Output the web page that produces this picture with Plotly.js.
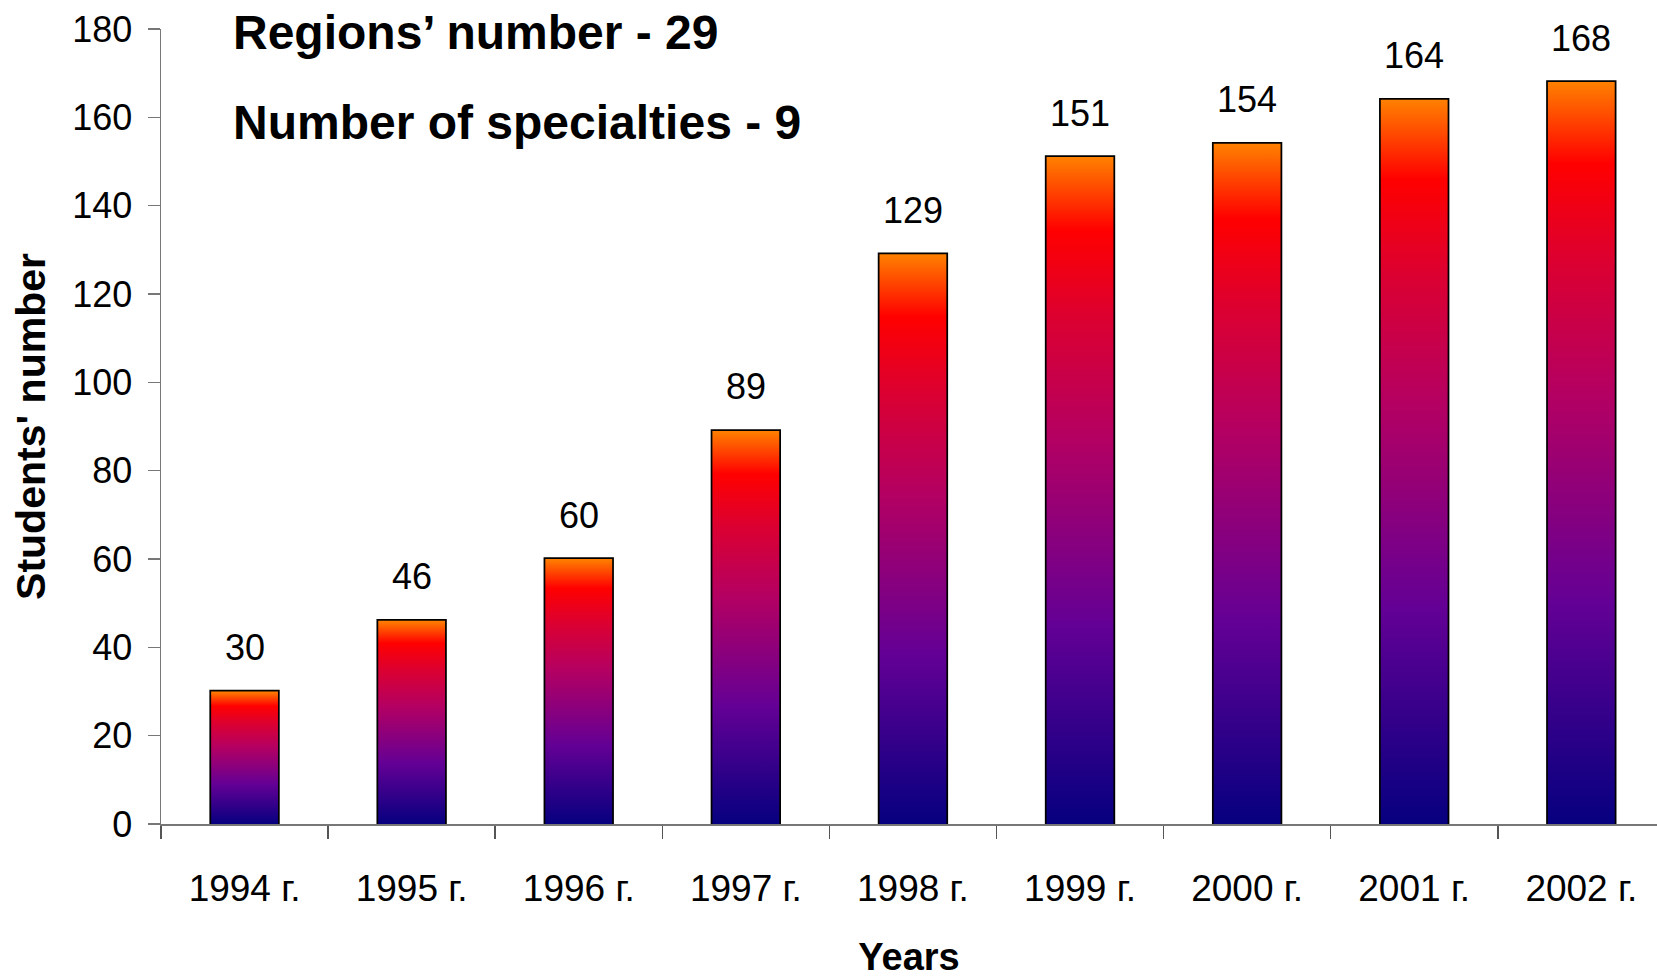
<!DOCTYPE html>
<html>
<head>
<meta charset="utf-8">
<script src="https://cdn.plot.ly/plotly-3.0.1.min.js"></script>
<style>
html,body{margin:0;padding:0;background:#fff;}
#chart{width:1657px;height:978px;}
</style>
</head>
<body>
<div id="chart"></div>
<script>
// ---- data ----
const categories = ['1994 г.', '1995 г.', '1996 г.', '1997 г.', '1998 г.', '1999 г.', '2000 г.', '2001 г.', '2002 г.'];
const students = [30, 46, 60, 89, 129, 151, 154, 164, 168];
const yTickValues = [0, 20, 40, 60, 80, 100, 120, 140, 160, 180];
const headerLines = ['Regions’ number - 29', 'Number of specialties - 9'];
const xTitle = 'Years';
const yTitle = "Students' number";

// ---- style ----
const FONT = 'Liberation Sans, Arial, sans-serif';
const BAR_WIDTH = 0.40;
const fireScale = [
  [0.00, '#06007f'],
  [0.30, '#640095'],
  [0.58, '#b40062'],
  [0.76, '#dc0030'],
  [0.89, '#ff0000'],
  [1.00, '#ff8000']
];

const positions = categories.map((c, i) => i);

// gradient-filled bar bodies (one filled shape per bar, in data coordinates)
const fillTraces = positions.map((p, i) => {
  const v = students[i];
  const l = p - BAR_WIDTH / 2, r = p + BAR_WIDTH / 2;
  return {
    type: 'scatter', mode: 'lines',
    x: [l, l, r, r, l], y: [0, v, v, 0, 0],
    fill: 'toself',
    fillgradient: {type: 'vertical', colorscale: fireScale, start: 0, stop: v},
    line: {width: 0, color: 'rgba(0,0,0,0)'},
    hoverinfo: 'skip', showlegend: false
  };
});

// bar outlines
const barTrace = {
  type: 'bar', x: positions, y: students, width: BAR_WIDTH,
  marker: {color: 'rgba(0,0,0,0)', line: {color: '#000', width: 3.5}},
  hovertext: categories, showlegend: false
};

const valueLabels = positions.map((p, i) => ({
  x: p, y: students[i], xref: 'x', yref: 'y',
  text: String(students[i]), showarrow: false,
  yanchor: 'middle', yshift: 44,
  font: {family: FONT, size: 36, color: '#000'}
}));

const headerAnn = headerLines.map((t, i) => ({
  x: 0.047, y: [0.996, 0.882][i], xref: 'paper', yref: 'paper',
  xanchor: 'left', yanchor: 'middle', text: '<b>' + t + '</b>', showarrow: false,
  font: {family: FONT, size: 48, color: '#000'}
}));

const boundaries = categories.map((c, i) => i - 0.5).concat([categories.length - 0.5]);

const layout = {
  width: 1657, height: 978,
  margin: {l: 161, r: 0, t: 29, b: 154},
  paper_bgcolor: '#fff', plot_bgcolor: '#fff',
  font: {family: FONT, color: '#000'},
  showlegend: false,
  xaxis: {
    type: 'linear',
    range: [-0.5, 8.453],
    tickmode: 'array', tickvals: positions, ticktext: categories,
    ticks: '', ticklabelstandoff: 31,
    minor: {tickmode: 'array', tickvals: boundaries, ticks: 'outside', ticklen: 13, tickwidth: 1.5, tickcolor: '#555', showgrid: false},
    showline: true, linecolor: '#777', linewidth: 1.5,
    showgrid: false, zeroline: false,
    tickfont: {family: FONT, size: 37, color: '#000'},
    title: {text: '<b>' + xTitle + '</b>', font: {family: FONT, size: 38, color: '#000'}, standoff: 38}
  },
  yaxis: {
    range: [0, 180],
    tickmode: 'array', tickvals: yTickValues,
    ticks: 'outside', ticklen: 12, tickwidth: 1.5, tickcolor: '#777',
    ticklabelstandoff: 8,
    showline: true, linecolor: '#777', linewidth: 1.5,
    showgrid: false, zeroline: false,
    tickfont: {family: FONT, size: 36, color: '#000'},
    title: {text: '<b>' + yTitle + '</b>', font: {family: FONT, size: 41, color: '#000'}, standoff: 14}
  },
  annotations: valueLabels.concat(headerAnn),
  bargap: 0.6
};

Plotly.newPlot('chart', fillTraces.concat([barTrace]), layout, {displayModeBar: false, staticPlot: true});
</script>
</body>
</html>
